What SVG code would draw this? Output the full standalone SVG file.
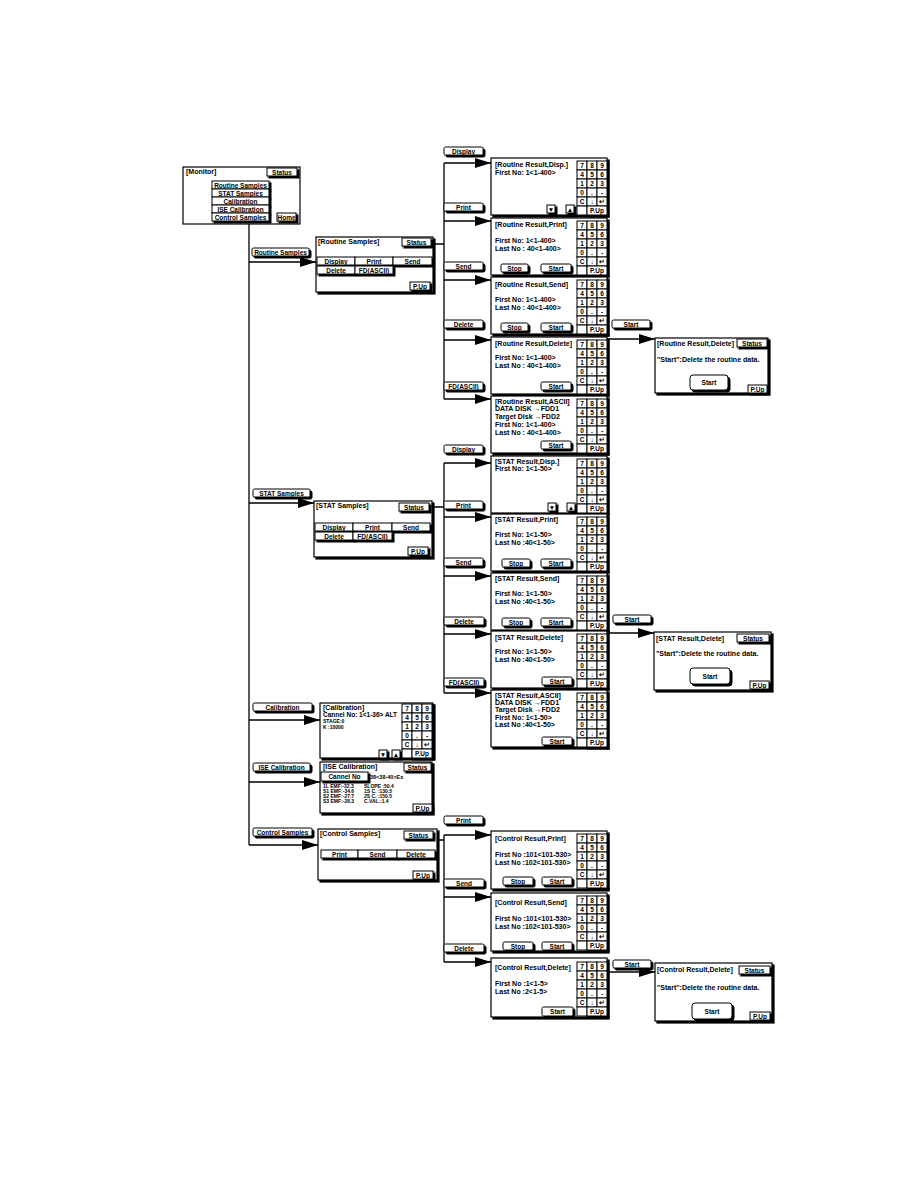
<svg xmlns="http://www.w3.org/2000/svg" width="918" height="1188" viewBox="0 0 918 1188" xml:space="preserve">
<style>
.t{font-family:"Liberation Sans",Arial,sans-serif;font-weight:bold;font-size:7px;fill:#000}
.bt{font-family:"Liberation Sans",Arial,sans-serif;font-weight:bold;font-size:6.5px;fill:#000;text-anchor:middle}
.sm{font-size:5px}
.b{fill:#fff;stroke:#000;stroke-width:1;filter:url(#sh)}
.sc{fill:#fff;stroke:#000;stroke-width:1.2;filter:url(#sh2)}
.bx{fill:#fff;stroke:#000;stroke-width:1.2}
.cell{fill:#fff;stroke:#000;stroke-width:1}
.ln{fill:none;stroke:#000;stroke-width:1.3}
.ar{marker-end:url(#ah)}
</style>
<defs>
<filter id="sh" x="-0.2" y="-0.5" width="1.5" height="2.2"><feFlood flood-color="#000"/><feComposite in2="SourceAlpha" operator="in"/><feOffset dx="1.5" dy="1.5" result="o"/><feMerge><feMergeNode in="o"/><feMergeNode in="SourceGraphic"/></feMerge></filter>
<filter id="sh2" x="-0.1" y="-0.1" width="1.3" height="1.3"><feFlood flood-color="#000"/><feComposite in2="SourceAlpha" operator="in"/><feOffset dx="2" dy="2" result="o"/><feMerge><feMergeNode in="o"/><feMergeNode in="SourceGraphic"/></feMerge></filter>
<marker id="ah" markerWidth="16" markerHeight="10" refX="16" refY="5" orient="auto" markerUnits="userSpaceOnUse"><path d="M0,0 L16,5 L0,10 z" fill="#000"/></marker>
<g id="kp">
<rect x="30" y="0" width="2.5" height="56.5" fill="#000"/>
<rect x="10" y="54" width="22.5" height="2.5" fill="#000"/>
<rect class="cell" x="0" y="0" width="10" height="9"/><rect class="cell" x="10" y="0" width="10" height="9"/><rect class="cell" x="20" y="0" width="10" height="9"/>
<rect class="cell" x="0" y="9" width="10" height="9"/><rect class="cell" x="10" y="9" width="10" height="9"/><rect class="cell" x="20" y="9" width="10" height="9"/>
<rect class="cell" x="0" y="18" width="10" height="9"/><rect class="cell" x="10" y="18" width="10" height="9"/><rect class="cell" x="20" y="18" width="10" height="9"/>
<rect class="cell" x="0" y="27" width="10" height="9"/><rect class="cell" x="10" y="27" width="10" height="9"/><rect class="cell" x="20" y="27" width="10" height="9"/>
<rect class="cell" x="0" y="36" width="10" height="9"/><rect class="cell" x="10" y="36" width="10" height="9"/><rect class="cell" x="20" y="36" width="10" height="9"/>
<rect class="cell" x="0" y="45" width="10" height="9"/><rect class="cell" x="10" y="45" width="20" height="9"/>
<text class="bt" x="5" y="7">7</text><text class="bt" x="15" y="7">8</text><text class="bt" x="25" y="7">9</text>
<text class="bt" x="5" y="16">4</text><text class="bt" x="15" y="16">5</text><text class="bt" x="25" y="16">6</text>
<text class="bt" x="5" y="25">1</text><text class="bt" x="15" y="25">2</text><text class="bt" x="25" y="25">3</text>
<text class="bt" x="5" y="34">0</text><text class="bt" x="15" y="34">.</text><text class="bt" x="25" y="34">-</text>
<text class="bt" x="5" y="43">C</text><text class="bt" x="15" y="43">↓</text><text class="bt" x="25" y="43">↵</text>
<text class="bt" x="20" y="52">P.Up</text>
</g>
</defs>
<rect width="918" height="1188" fill="#fff"/>

<g id="connectors">
<path class="ln" d="M249,224 V845"/>
<path class="ln ar" d="M249,262 H316"/>
<path class="ln ar" d="M249,503 H314"/>
<path class="ln ar" d="M249,720 H320"/>
<path class="ln ar" d="M249,782 H320"/>
<path class="ln ar" d="M249,845 H318"/>
<path class="ln" d="M433,244 H444 M444,163 V399"/>
<path class="ln ar" d="M444,163 H491"/>
<path class="ln ar" d="M444,221 H491"/>
<path class="ln ar" d="M444,280 H491"/>
<path class="ln ar" d="M444,340 H491"/>
<path class="ln ar" d="M444,399 H491"/>
<path class="ln" d="M432,507 H444 M444,463 V693"/>
<path class="ln ar" d="M444,463 H491"/>
<path class="ln ar" d="M444,517 H491"/>
<path class="ln ar" d="M444,576 H491"/>
<path class="ln ar" d="M444,634 H491"/>
<path class="ln ar" d="M444,693 H491"/>
<path class="ln" d="M437,840 H444 M444,835 V962"/>
<path class="ln ar" d="M444,835 H491"/>
<path class="ln ar" d="M444,897 H491"/>
<path class="ln ar" d="M444,962 H491"/>
<path class="ln ar" d="M607,339 H655"/>
<path class="ln ar" d="M607,633 H654"/>
<path class="ln ar" d="M607,972 H655"/>
<g id="edge-labels">
<rect class="b" x="252" y="248" width="57" height="8" rx="1.5"/><text class="bt" x="280.5" y="254.5">Routine Samples</text>
<rect class="b" x="253" y="489" width="57" height="8" rx="1.5"/><text class="bt" x="281.5" y="495.5">STAT Samples</text>
<rect class="b" x="253" y="703" width="59" height="8" rx="1.5"/><text class="bt" x="282.5" y="709.5">Calibration</text>
<rect class="b" x="253" y="763" width="57" height="8" rx="1.5"/><text class="bt" x="281.5" y="769.5">ISE Calibration</text>
<rect class="b" x="253" y="828" width="59" height="8" rx="1.5"/><text class="bt" x="282.5" y="834.5">Control Samples</text>
<rect class="b" x="444" y="147" width="39" height="8" rx="1.5"/><text class="bt" x="463.5" y="153.5">Display</text>
<rect class="b" x="444" y="203" width="39" height="8" rx="1.5"/><text class="bt" x="463.5" y="209.5">Print</text>
<rect class="b" x="444" y="262" width="39" height="8" rx="1.5"/><text class="bt" x="463.5" y="268.5">Send</text>
<rect class="b" x="444" y="320" width="39" height="8" rx="1.5"/><text class="bt" x="463.5" y="326.5">Delete</text>
<rect class="b" x="444" y="382" width="39" height="8" rx="1.5"/><text class="bt" x="463.5" y="388.5">FD(ASCII)</text>
<rect class="b" x="444" y="445" width="39" height="8" rx="1.5"/><text class="bt" x="463.5" y="451.5">Display</text>
<rect class="b" x="444" y="501" width="39" height="8" rx="1.5"/><text class="bt" x="463.5" y="507.5">Print</text>
<rect class="b" x="444" y="558" width="39" height="8" rx="1.5"/><text class="bt" x="463.5" y="564.5">Send</text>
<rect class="b" x="444" y="617" width="40" height="8" rx="1.5"/><text class="bt" x="464" y="623.5">Delete</text>
<rect class="b" x="444" y="678" width="40" height="8" rx="1.5"/><text class="bt" x="464" y="684.5">FD(ASCII)</text>
<rect class="b" x="444" y="816" width="39" height="8" rx="1.5"/><text class="bt" x="463.5" y="822.5">Print</text>
<rect class="b" x="444" y="879" width="40" height="8" rx="1.5"/><text class="bt" x="464" y="885.5">Send</text>
<rect class="b" x="444" y="944" width="40" height="8" rx="1.5"/><text class="bt" x="464" y="950.5">Delete</text>
<rect class="b" x="612" y="320" width="38" height="8" rx="1.5"/><text class="bt" x="631" y="326.5">Start</text>
<rect class="b" x="613" y="615" width="38" height="8" rx="1.5"/><text class="bt" x="632" y="621.5">Start</text>
<rect class="b" x="613" y="960" width="38" height="8" rx="1.5"/><text class="bt" x="632" y="966.5">Start</text>
</g>
</g>

<g id="monitor">
<rect class="bx" x="183" y="167" width="117" height="57"/>
<text class="t" x="186" y="174">[Monitor]</text>
<rect class="b" x="267" y="168" width="30" height="8"/><text class="bt" x="282" y="174.5">Status</text>
<rect class="b" x="212" y="181" width="57" height="8"/><text class="bt" x="240.5" y="187.5">Routine Samples</text>
<rect class="b" x="212" y="189" width="57" height="8"/><text class="bt" x="240.5" y="195.5">STAT Samples</text>
<rect class="b" x="212" y="197" width="57" height="8"/><text class="bt" x="240.5" y="203.5">Calibration</text>
<rect class="b" x="212" y="205" width="57" height="8"/><text class="bt" x="240.5" y="211.5">ISE Calibration</text>
<rect class="b" x="212" y="213" width="57" height="8"/><text class="bt" x="240.5" y="219.5">Control Samples</text>
<rect class="b" x="277" y="213" width="19" height="8"/><text class="bt" x="286.5" y="219.5">Home</text>
</g>

<g id="routine-samples">
<rect class="sc" x="316" y="237" width="117" height="55"/>
<text class="t" x="318" y="244">[Routine Samples]</text>
<rect class="b" x="402" y="238" width="29" height="8"/><text class="bt" x="416.5" y="244.5">Status</text>
<rect class="b" x="317" y="257" width="38" height="8"/><text class="bt" x="336" y="263.5">Display</text>
<rect class="b" x="355" y="257" width="38" height="8"/><text class="bt" x="374" y="263.5">Print</text>
<rect class="b" x="393" y="257" width="39" height="8"/><text class="bt" x="412.5" y="263.5">Send</text>
<rect class="b" x="317" y="266" width="38" height="8"/><text class="bt" x="336" y="272.5">Delete</text>
<rect class="b" x="355" y="266" width="38" height="8"/><text class="bt" x="374" y="272.5">FD(ASCII)</text>
<rect class="b" x="410" y="282" width="20" height="8"/><text class="bt" x="420" y="288.5">P.Up</text>
</g>

<g id="routine-disp">
<rect class="sc" x="491" y="158" width="116" height="57"/>
<text class="t" x="495" y="167">[Routine Result,Disp.]</text>
<text class="t" x="495" y="175">First No:  1&lt;1-400&gt;</text>
<rect class="b" x="547" y="205" width="8" height="8"/><text class="bt" x="551" y="211.5">▼</text>
<rect class="b" x="566" y="205" width="8" height="8"/><text class="bt" x="570" y="211.5">▲</text>
<use href="#kp" x="577" y="161"/>
</g>
<g id="routine-print">
<rect class="sc" x="491" y="218" width="116" height="57"/>
<text class="t" x="495" y="227">[Routine Result,Print]</text>
<text class="t" x="495" y="243">First No:  1&lt;1-400&gt;</text>
<text class="t" x="495" y="251">Last No : 40&lt;1-400&gt;</text>
<rect class="b" x="501" y="264" width="27" height="8" rx="1.5"/><text class="bt" x="514.5" y="270.5">Stop</text>
<rect class="b" x="541" y="264" width="30" height="8" rx="1.5"/><text class="bt" x="556" y="270.5">Start</text>
<use href="#kp" x="577" y="221"/>
</g>
<g id="routine-send">
<rect class="sc" x="491" y="277" width="116" height="57"/>
<text class="t" x="495" y="287">[Routine Result,Send]</text>
<text class="t" x="495" y="302">First No:  1&lt;1-400&gt;</text>
<text class="t" x="495" y="310">Last No : 40&lt;1-400&gt;</text>
<rect class="b" x="501" y="323" width="27" height="8" rx="1.5"/><text class="bt" x="514.5" y="329.5">Stop</text>
<rect class="b" x="541" y="323" width="30" height="8" rx="1.5"/><text class="bt" x="556" y="329.5">Start</text>
<use href="#kp" x="577" y="280"/>
</g>
<g id="routine-delete">
<rect class="sc" x="491" y="337" width="116" height="57"/>
<text class="t" x="495" y="346">[Routine Result,Delete]</text>
<text class="t" x="495" y="360">First No:  1&lt;1-400&gt;</text>
<text class="t" x="495" y="368">Last No : 40&lt;1-400&gt;</text>
<rect class="b" x="541" y="382" width="30" height="8" rx="1.5"/><text class="bt" x="556" y="388.5">Start</text>
<use href="#kp" x="577" y="340"/>
</g>
<g id="routine-ascii">
<rect class="sc" x="491" y="396" width="116" height="57"/>
<text class="t" x="495" y="404">[Routine Result,ASCII]</text>
<text class="t" x="495" y="411">DATA DISK     →FDD1</text>
<text class="t" x="495" y="419">Target Disk  →FDD2</text>
<text class="t" x="495" y="427">First No:  1&lt;1-400&gt;</text>
<text class="t" x="495" y="435">Last No : 40&lt;1-400&gt;</text>
<rect class="b" x="541" y="441" width="30" height="8" rx="1.5"/><text class="bt" x="556" y="447.5">Start</text>
<use href="#kp" x="577" y="399"/>
</g>
<g id="routine-delete-confirm">
<rect class="sc" x="655" y="338" width="113" height="55"/>
<text class="t" x="657" y="346">[Routine Result,Delete]</text>
<rect class="b" x="737" y="339" width="30" height="8"/><text class="bt" x="752" y="345.5">Status</text>
<text class="t" x="657" y="362">"Start":Delete the routine data.</text>
<rect class="b" x="690" y="375" width="38" height="15" rx="3"/><text class="bt" x="709" y="385">Start</text>
<rect class="b" x="748" y="385" width="19" height="8"/><text class="bt" x="757.5" y="391.5">P.Up</text>
</g>

<g id="stat-samples">
<rect class="sc" x="314" y="501" width="118" height="56"/>
<text class="t" x="316" y="508">[STAT Samples]</text>
<rect class="b" x="399" y="503" width="30" height="8"/><text class="bt" x="414" y="509.5">Status</text>
<rect class="b" x="315" y="523" width="38" height="8"/><text class="bt" x="334" y="529.5">Display</text>
<rect class="b" x="353" y="523" width="39" height="8"/><text class="bt" x="372.5" y="529.5">Print</text>
<rect class="b" x="392" y="523" width="38" height="8"/><text class="bt" x="411" y="529.5">Send</text>
<rect class="b" x="315" y="532" width="38" height="8"/><text class="bt" x="334" y="538.5">Delete</text>
<rect class="b" x="353" y="532" width="39" height="8"/><text class="bt" x="372.5" y="538.5">FD(ASCII)</text>
<rect class="b" x="408" y="547" width="20" height="8"/><text class="bt" x="418" y="553.5">P.Up</text>
</g>
<g id="stat-disp">
<rect class="sc" x="491" y="456" width="116" height="57"/>
<text class="t" x="495" y="464">[STAT Result,Disp.]</text>
<text class="t" x="495" y="471">First No: 1&lt;1-50&gt;</text>
<rect class="b" x="548" y="503" width="8" height="8"/><text class="bt" x="552" y="509.5">▼</text>
<rect class="b" x="567" y="503" width="8" height="8"/><text class="bt" x="571" y="509.5">▲</text>
<use href="#kp" x="577" y="459"/>
</g>
<g id="stat-print">
<rect class="sc" x="491" y="514" width="116" height="57"/>
<text class="t" x="495" y="522">[STAT Result,Print]</text>
<text class="t" x="495" y="537">First No: 1&lt;1-50&gt;</text>
<text class="t" x="495" y="545">Last No :40&lt;1-50&gt;</text>
<rect class="b" x="502" y="559" width="28" height="8" rx="1.5"/><text class="bt" x="516" y="565.5">Stop</text>
<rect class="b" x="541" y="559" width="30" height="8" rx="1.5"/><text class="bt" x="556" y="565.5">Start</text>
<use href="#kp" x="577" y="517"/>
</g>
<g id="stat-send">
<rect class="sc" x="491" y="573" width="116" height="57"/>
<text class="t" x="495" y="581">[STAT Result,Send]</text>
<text class="t" x="495" y="596">First No: 1&lt;1-50&gt;</text>
<text class="t" x="495" y="604">Last No :40&lt;1-50&gt;</text>
<rect class="b" x="502" y="618" width="28" height="8" rx="1.5"/><text class="bt" x="516" y="624.5">Stop</text>
<rect class="b" x="541" y="618" width="30" height="8" rx="1.5"/><text class="bt" x="556" y="624.5">Start</text>
<use href="#kp" x="577" y="576"/>
</g>
<g id="stat-delete">
<rect class="sc" x="491" y="631" width="116" height="57"/>
<text class="t" x="495" y="640">[STAT Result,Delete]</text>
<text class="t" x="495" y="654">First No: 1&lt;1-50&gt;</text>
<text class="t" x="495" y="662">Last No :40&lt;1-50&gt;</text>
<rect class="b" x="542" y="677" width="30" height="8" rx="1.5"/><text class="bt" x="557" y="683.5">Start</text>
<use href="#kp" x="577" y="634"/>
</g>
<g id="stat-ascii">
<rect class="sc" x="491" y="690" width="116" height="57"/>
<text class="t" x="495" y="698">[STAT Result,ASCII]</text>
<text class="t" x="495" y="705">DATA DISK     →FDD1</text>
<text class="t" x="495" y="712">Target Disk  →FDD2</text>
<text class="t" x="495" y="720">First No: 1&lt;1-50&gt;</text>
<text class="t" x="495" y="727">Last No :40&lt;1-50&gt;</text>
<rect class="b" x="542" y="737" width="30" height="8" rx="1.5"/><text class="bt" x="557" y="743.5">Start</text>
<use href="#kp" x="577" y="693"/>
</g>
<g id="stat-delete-confirm">
<rect class="sc" x="654" y="632" width="117" height="58"/>
<text class="t" x="656" y="641">[STAT Result,Delete]</text>
<rect class="b" x="737" y="634" width="32" height="8"/><text class="bt" x="753" y="640.5">Status</text>
<text class="t" x="656" y="656">"Start":Delete the routine data.</text>
<rect class="b" x="690" y="668" width="40" height="16" rx="3"/><text class="bt" x="710" y="678.5">Start</text>
<rect class="b" x="750" y="681" width="19" height="8"/><text class="bt" x="759.5" y="687.5">P.Up</text>
</g>

<g id="calibration">
<rect class="sc" x="320" y="703" width="113" height="55"/>
<text class="t" x="323" y="710">[Calibration]</text>
<text class="t" x="323" y="717" style="font-size:6.5px">Cannel No:  1&lt;1-36&gt; ALT</text>
<text class="t sm" x="323" y="723">STAGE:0</text>
<text class="t sm" x="323" y="729">K       :10000</text>
<rect class="b" x="379" y="750" width="8" height="8"/><text class="bt" x="383" y="756.5">▼</text>
<rect class="b" x="392" y="750" width="8" height="8"/><text class="bt" x="396" y="756.5">▲</text>
<use href="#kp" x="402" y="704"/>
</g>
<g id="ise-calibration">
<rect class="sc" x="320" y="762" width="112" height="51"/>
<text class="t" x="323" y="769">[ISE Calibration]</text>
<rect class="b" x="404" y="763" width="27" height="8"/><text class="bt" x="417.5" y="769.5">Status</text>
<rect class="b" x="321" y="772" width="47" height="9"/><text class="bt" x="344.5" y="779">Cannel No</text>
<text class="t" x="370" y="779" style="font-size:5.5px">38&lt;38-40&gt;Ex</text>
<text class="t sm" x="323" y="788">1L EMF:-32.3</text>
<text class="t sm" x="323" y="793">S1 EMF:-34.6</text>
<text class="t sm" x="323" y="798">S2 EMF:-27.7</text>
<text class="t sm" x="323" y="803">S3 EMF:-28.3</text>
<text class="t sm" x="364" y="788">SLOPE :50.4</text>
<text class="t sm" x="364" y="793">1S C.  :130.5</text>
<text class="t sm" x="364" y="798">2S C.  :150.5</text>
<text class="t sm" x="364" y="803">C.VAL.:1.4</text>
<rect class="b" x="413" y="804" width="19" height="8"/><text class="bt" x="422.5" y="810.5">P.Up</text>
</g>

<g id="control-samples">
<rect class="sc" x="318" y="829" width="119" height="51"/>
<text class="t" x="320" y="836">[Control Samples]</text>
<rect class="b" x="404" y="831" width="29" height="8"/><text class="bt" x="418.5" y="837.5">Status</text>
<rect class="b" x="321" y="850" width="37" height="8"/><text class="bt" x="339.5" y="856.5">Print</text>
<rect class="b" x="358" y="850" width="39" height="8"/><text class="bt" x="377.5" y="856.5">Send</text>
<rect class="b" x="397" y="850" width="38" height="8"/><text class="bt" x="416" y="856.5">Delete</text>
<rect class="b" x="413" y="871" width="20" height="8"/><text class="bt" x="423" y="877.5">P.Up</text>
</g>
<g id="control-print">
<rect class="sc" x="491" y="831" width="116" height="58"/>
<text class="t" x="495" y="841">[Control Result,Print]</text>
<text class="t" x="495" y="857">First No  :101&lt;101-530&gt;</text>
<text class="t" x="495" y="865">Last No   :102&lt;101-530&gt;</text>
<rect class="b" x="503" y="877" width="30" height="8" rx="1.5"/><text class="bt" x="518" y="883.5">Stop</text>
<rect class="b" x="542" y="877" width="30" height="8" rx="1.5"/><text class="bt" x="557" y="883.5">Start</text>
<use href="#kp" x="577" y="834"/>
</g>
<g id="control-send">
<rect class="sc" x="491" y="893" width="116" height="58"/>
<text class="t" x="495" y="905">[Control Result,Send]</text>
<text class="t" x="495" y="921">First No  :101&lt;101-530&gt;</text>
<text class="t" x="495" y="929">Last No   :102&lt;101-530&gt;</text>
<rect class="b" x="503" y="942" width="30" height="8" rx="1.5"/><text class="bt" x="518" y="948.5">Stop</text>
<rect class="b" x="542" y="942" width="30" height="8" rx="1.5"/><text class="bt" x="557" y="948.5">Start</text>
<use href="#kp" x="577" y="896"/>
</g>
<g id="control-delete">
<rect class="sc" x="491" y="958" width="116" height="59"/>
<text class="t" x="495" y="970">[Control Result,Delete]</text>
<text class="t" x="495" y="986">First No  :1&lt;1-5&gt;</text>
<text class="t" x="495" y="994">Last No   :2&lt;1-5&gt;</text>
<rect class="b" x="542" y="1007" width="31" height="9" rx="1.5"/><text class="bt" x="557.5" y="1014">Start</text>
<use href="#kp" x="577" y="962"/>
</g>
<g id="control-delete-confirm">
<rect class="sc" x="655" y="963" width="117" height="58"/>
<text class="t" x="657" y="972">[Control Result,Delete]</text>
<rect class="b" x="739" y="966" width="31" height="8"/><text class="bt" x="754.5" y="972.5">Status</text>
<text class="t" x="657" y="990">"Start":Delete the routine data.</text>
<rect class="b" x="692" y="1003" width="40" height="16" rx="3"/><text class="bt" x="712" y="1013.5">Start</text>
<rect class="b" x="750" y="1012" width="20" height="8"/><text class="bt" x="760" y="1018.5">P.Up</text>
</g>
</svg>
